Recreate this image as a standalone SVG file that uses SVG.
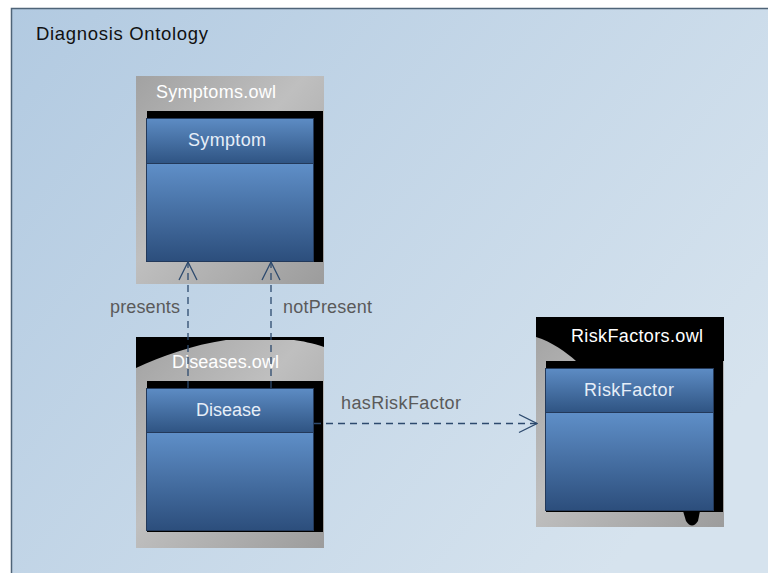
<svg xmlns="http://www.w3.org/2000/svg" width="768" height="573" viewBox="0 0 768 573">
<defs>
<linearGradient id="bg" x1="0" y1="0" x2="1" y2="0.6">
<stop offset="0" stop-color="#b2cae1"/>
<stop offset="1" stop-color="#d6e3ee"/>
</linearGradient>
<linearGradient id="pkg" x1="0" y1="0" x2="1" y2="1">
<stop offset="0" stop-color="#a2a2a2"/>
<stop offset="0.45" stop-color="#bfbfbf"/>
<stop offset="1" stop-color="#9c9c9c"/>
</linearGradient>
<linearGradient id="hdr" x1="0" y1="0" x2="0" y2="1">
<stop offset="0" stop-color="#5d8cc4"/>
<stop offset="1" stop-color="#2f5483"/>
</linearGradient>
<linearGradient id="body" x1="0" y1="0" x2="0" y2="1">
<stop offset="0" stop-color="#5f8fc8"/>
<stop offset="1" stop-color="#2c4e7c"/>
</linearGradient>
<marker id="open" viewBox="0 0 20 20" refX="19" refY="10" markerWidth="20" markerHeight="20" markerUnits="userSpaceOnUse" orient="auto">
<path d="M1,1 L19,10 L1,19" fill="none" stroke="#2d4a6e" stroke-width="1.3"/>
</marker>
<style>
.pkgl{font-family:"Liberation Sans",Arial,sans-serif;font-size:18px;fill:#ffffff}
.cls{font-family:"Liberation Sans",Arial,sans-serif;font-size:18px;fill:#e6eef8}
.lbl{font-family:"Liberation Sans",Arial,sans-serif;font-size:18px;fill:#5a5a5a}
.conn{stroke:#2d4a6e;stroke-width:1.3;stroke-dasharray:7,5;fill:none}
.box{stroke:#23395a;stroke-width:1}
</style>
</defs>
<rect x="0" y="0" width="768" height="573" fill="#ffffff"/>
<rect x="11.5" y="8.5" width="770" height="580" fill="url(#bg)" stroke="#4f6478" stroke-width="1.5"/>
<text x="36" y="40" font-family="Liberation Sans,Arial,sans-serif" font-size="18.5" fill="#111" textLength="172" lengthAdjust="spacing">Diagnosis Ontology</text>

<g id="symptoms-pkg">
<rect x="136" y="76" width="188" height="208" fill="url(#pkg)"/>
<text class="pkgl" x="156" y="98" textLength="120" lengthAdjust="spacing">Symptoms.owl</text>
<rect x="147" y="111" width="176" height="151" fill="#000"/>
</g>
<g id="symptom">
<rect class="box" x="146.5" y="118.5" width="167" height="45" fill="url(#hdr)"/>
<rect class="box" x="146.5" y="163.5" width="167" height="98" fill="url(#body)"/>
<text class="cls" x="188" y="146" textLength="78" lengthAdjust="spacing">Symptom</text>
</g>

<g id="diseases-pkg">
<rect x="136" y="337" width="188" height="211" fill="url(#pkg)"/>
<path d="M136,337 H324 V347 C312,343 302,341 294,340 L226,340 C192,345 162,356 136,368 Z" fill="#000"/>
<text class="pkgl" x="172" y="368" textLength="107" lengthAdjust="spacing">Diseases.owl</text>
<rect x="147" y="381" width="176" height="151" fill="#000"/>
</g>
<g id="disease">
<rect class="box" x="146.5" y="388.5" width="167" height="44" fill="url(#hdr)"/>
<rect class="box" x="146.5" y="432.5" width="167" height="98" fill="url(#body)"/>
<text class="cls" x="196" y="416" textLength="65" lengthAdjust="spacing">Disease</text>
</g>

<g id="riskfactors-pkg">
<rect x="536" y="317" width="188" height="210" fill="url(#pkg)"/>
<path d="M536,317 H724 V361 H576 C566,352 552,342 536,337 Z" fill="#000"/>
<text class="pkgl" x="571" y="342" textLength="132" lengthAdjust="spacing">RiskFactors.owl</text>
<rect x="546" y="361" width="177" height="151" fill="#000"/>
<path d="M683,511 H700 L698,521 Q692,530 686,521 Z" fill="#000"/>
</g>
<g id="riskfactor">
<rect class="box" x="545.5" y="368.5" width="168" height="44" fill="url(#hdr)"/>
<rect class="box" x="545.5" y="412.5" width="168" height="98" fill="url(#body)"/>
<text class="cls" x="584" y="396" textLength="90" lengthAdjust="spacing">RiskFactor</text>
</g>

<g id="connectors">
<line class="conn" x1="188" y1="388" x2="188" y2="262" marker-end="url(#open)"/>
<line class="conn" x1="271" y1="388" x2="271" y2="262" marker-end="url(#open)"/>
<line class="conn" x1="314" y1="423.5" x2="537" y2="423.5" marker-end="url(#open)"/>
<text class="lbl" x="110" y="313" textLength="70" lengthAdjust="spacing">presents</text>
<text class="lbl" x="283" y="313" textLength="89" lengthAdjust="spacing">notPresent</text>
<text class="lbl" x="341" y="409" textLength="120" lengthAdjust="spacing">hasRiskFactor</text>
</g>
</svg>
